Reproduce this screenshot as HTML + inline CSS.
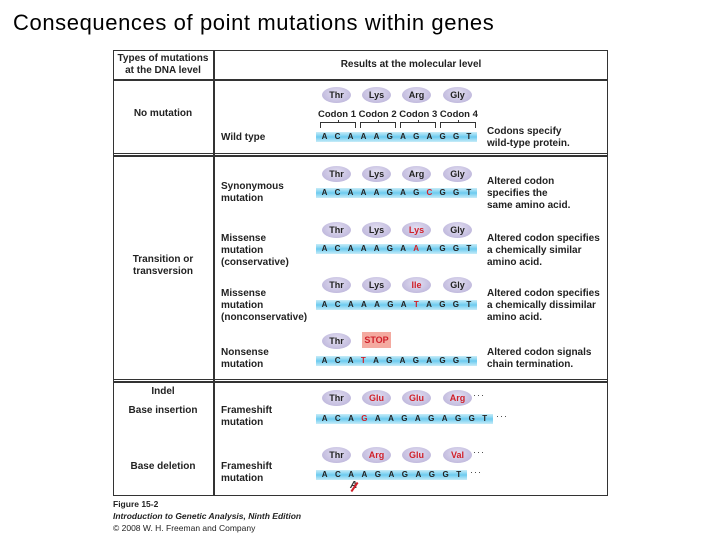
<!DOCTYPE html>
<html><head><meta charset="utf-8"><style>
*{margin:0;padding:0;box-sizing:border-box}
body{width:720px;height:540px;background:#fff;position:relative;overflow:hidden;font-family:"Liberation Sans",sans-serif;}
.a{position:absolute}
.t{position:absolute;font-size:10px;font-weight:bold;color:#222;line-height:12px}
.c{text-align:center}
.h{position:absolute;background:#333}
.ov{position:absolute;width:29px;height:16px;border-radius:50%;background:radial-gradient(ellipse at 50% 40%,#e4e0f2,#b4acd6);font-size:9px;font-weight:bold;text-align:center;line-height:16px;color:#222}
.ov.r{color:#d0202a}
.st{position:absolute;height:10px;background:linear-gradient(#c8ecf8,#6ccbef 50%,#c8ecf8);display:flex;justify-content:space-around;font-size:8px;font-weight:bold;line-height:10px;color:#222;padding:0 2px}
.st span.r{color:#d0202a}
.dots{position:absolute;font-size:9px;color:#333;letter-spacing:1px}
.br{position:absolute;height:6px;border:1px solid #333;border-bottom:none;width:30px}
.br:after{content:"";position:absolute;left:50%;top:-3px;width:1px;height:3px;background:#333}
</style></head><body>
<div class="a" style="left:13px;top:10px;font-family:'Liberation Sans',sans-serif;font-size:22px;color:#000;letter-spacing:0.6px">Consequences of point mutations within genes</div>

<div class="a" style="left:113px;top:50px;width:495px;height:446px;border:1px solid #333"></div>
<div class="h" style="left:213px;top:50px;width:2px;height:446px"></div>
<div class="h" style="left:113px;top:79px;width:495px;height:2px"></div>
<div class="h" style="left:113px;top:153px;width:495px;height:1px"></div>
<div class="h" style="left:113px;top:155px;width:495px;height:2px"></div>
<div class="h" style="left:113px;top:379px;width:495px;height:1px"></div>
<div class="h" style="left:113px;top:381px;width:495px;height:2px"></div>

<div class="t c" style="left:113px;top:53px;width:100px;line-height:12px">Types of mutations<br>at the DNA level</div>
<div class="t c" style="left:215px;top:59px;width:392px">Results at the molecular level</div>
<div class="t c" style="left:113px;top:108px;width:100px">No mutation</div>
<div class="t c" style="left:113px;top:254px;width:100px">Transition or<br>transversion</div>
<div class="t c" style="left:113px;top:386px;width:100px">Indel</div>
<div class="t c" style="left:113px;top:405px;width:100px">Base insertion</div>
<div class="t c" style="left:113px;top:461px;width:100px">Base deletion</div>

<div class="t" style="left:221px;top:132px">Wild type</div>
<div class="t" style="left:221px;top:181px">Synonymous<br>mutation</div>
<div class="t" style="left:221px;top:233px">Missense<br>mutation<br>(conservative)</div>
<div class="t" style="left:221px;top:288px">Missense<br>mutation<br>(nonconservative)</div>
<div class="t" style="left:221px;top:347px">Nonsense<br>mutation</div>
<div class="t" style="left:221px;top:405px">Frameshift<br>mutation</div>
<div class="t" style="left:221px;top:461px">Frameshift<br>mutation</div>

<div class="t" style="left:487px;top:126px">Codons specify<br>wild-type protein.</div>
<div class="t" style="left:487px;top:176px">Altered codon<br>specifies the<br>same amino acid.</div>
<div class="t" style="left:487px;top:233px">Altered codon specifies<br>a chemically similar<br>amino acid.</div>
<div class="t" style="left:487px;top:288px">Altered codon specifies<br>a chemically dissimilar<br>amino acid.</div>
<div class="t" style="left:487px;top:347px">Altered codon signals<br>chain termination.</div>

<!-- wild -->
<div class="ov" style="left:322px;top:87px">Thr</div><div class="ov" style="left:362px;top:87px">Lys</div><div class="ov" style="left:402px;top:87px">Arg</div><div class="ov" style="left:443px;top:87px">Gly</div>
<div class="t" style="left:318px;top:109px;font-size:9.5px;word-spacing:0px">Codon 1 Codon 2 Codon 3 Codon 4</div>
<div class="br" style="left:320px;top:122px;width:36px"></div><div class="br" style="left:360px;top:122px;width:36px"></div><div class="br" style="left:400px;top:122px;width:36px"></div><div class="br" style="left:440px;top:122px;width:36px"></div>
<div class="st" style="left:316px;top:132px;width:161px"><span>A</span><span>C</span><span>A</span><span>A</span><span>A</span><span>G</span><span>A</span><span>G</span><span>A</span><span>G</span><span>G</span><span>T</span></div>

<!-- synonymous -->
<div class="ov" style="left:322px;top:166px">Thr</div><div class="ov" style="left:362px;top:166px">Lys</div><div class="ov" style="left:402px;top:166px">Arg</div><div class="ov" style="left:443px;top:166px">Gly</div>
<div class="st" style="left:316px;top:188px;width:161px"><span>A</span><span>C</span><span>A</span><span>A</span><span>A</span><span>G</span><span>A</span><span>G</span><span class="r">C</span><span>G</span><span>G</span><span>T</span></div>

<!-- conservative -->
<div class="ov" style="left:322px;top:222px">Thr</div><div class="ov" style="left:362px;top:222px">Lys</div><div class="ov r" style="left:402px;top:222px">Lys</div><div class="ov" style="left:443px;top:222px">Gly</div>
<div class="st" style="left:316px;top:244px;width:161px"><span>A</span><span>C</span><span>A</span><span>A</span><span>A</span><span>G</span><span>A</span><span class="r">A</span><span>A</span><span>G</span><span>G</span><span>T</span></div>

<!-- nonconservative -->
<div class="ov" style="left:322px;top:277px">Thr</div><div class="ov" style="left:362px;top:277px">Lys</div><div class="ov r" style="left:402px;top:277px">Ile</div><div class="ov" style="left:443px;top:277px">Gly</div>
<div class="st" style="left:316px;top:300px;width:161px"><span>A</span><span>C</span><span>A</span><span>A</span><span>A</span><span>G</span><span>A</span><span class="r">T</span><span>A</span><span>G</span><span>G</span><span>T</span></div>

<!-- nonsense -->
<div class="ov" style="left:322px;top:333px">Thr</div>
<div class="a" style="left:362px;top:332px;width:29px;height:16px;background:#f4aaa0;color:#d0202a;font-size:9px;font-weight:bold;text-align:center;line-height:16px">STOP</div>
<div class="st" style="left:316px;top:356px;width:161px"><span>A</span><span>C</span><span>A</span><span class="r">T</span><span>A</span><span>G</span><span>A</span><span>G</span><span>A</span><span>G</span><span>G</span><span>T</span></div>

<!-- insertion -->
<div class="ov" style="left:322px;top:390px">Thr</div><div class="ov r" style="left:362px;top:390px">Glu</div><div class="ov r" style="left:402px;top:390px">Glu</div><div class="ov r" style="left:443px;top:390px">Arg</div>
<div class="dots" style="left:473px;top:390px">···</div>
<div class="st" style="left:316px;top:414px;width:177px"><span>A</span><span>C</span><span>A</span><span class="r">G</span><span>A</span><span>A</span><span>G</span><span>A</span><span>G</span><span>A</span><span>G</span><span>G</span><span>T</span></div>
<div class="dots" style="left:496px;top:411px">···</div>

<!-- deletion -->
<div class="ov" style="left:322px;top:447px">Thr</div><div class="ov r" style="left:362px;top:447px">Arg</div><div class="ov r" style="left:402px;top:447px">Glu</div><div class="ov r" style="left:443px;top:447px">Val</div>
<div class="dots" style="left:473px;top:447px">···</div>
<div class="st" style="left:316px;top:470px;width:151px"><span>A</span><span>C</span><span>A</span><span>A</span><span>G</span><span>A</span><span>G</span><span>A</span><span>G</span><span>G</span><span>T</span></div>
<div class="dots" style="left:470px;top:467px">···</div>
<div class="a" style="left:350px;top:480px;font-size:10px;color:#333;font-style:italic;font-weight:bold">A</div>
<div class="a" style="left:349px;top:486px;width:11px;height:2px;background:#d0202a;transform:rotate(-55deg)"></div>

<div class="a" style="left:113px;top:498px;font-size:8.5px;color:#222;line-height:12px;font-family:'Liberation Sans',sans-serif">
<b>Figure 15-2</b><br><i><b>Introduction to Genetic Analysis, Ninth Edition</b></i><br>© 2008 W. H. Freeman and Company</div>
</body></html>
